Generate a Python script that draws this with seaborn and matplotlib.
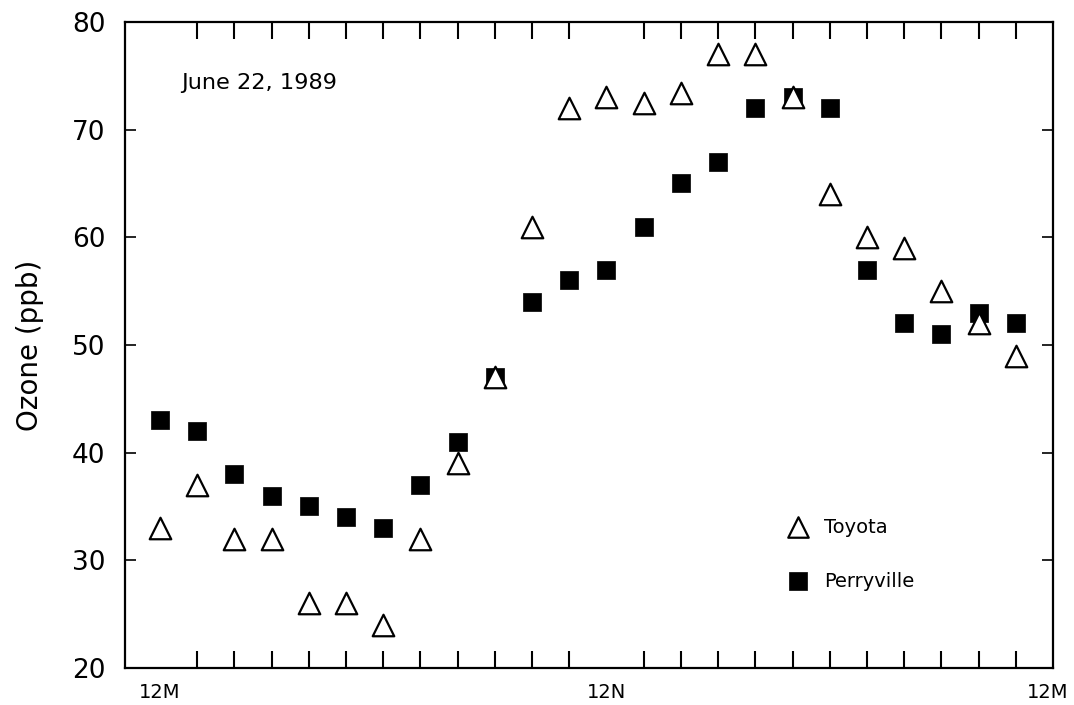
import matplotlib
matplotlib.use("Agg")
import matplotlib.pyplot as plt
import seaborn as sns
import pandas as pd
import numpy as np

hours = list(range(24))
toyota = [33, 37, 32, 32, 26, 26, 24, 32, 39, 47, 61, 72, 73, 72.5, 73.4, 77, 77, 73, 64, 60, 59, 55, 52, 49]
perryville = [43, 42, 38, 36, 35, 34, 33, 37, 41, 47, 54, 56, 57, 61, 65, 67, 72, 73, 72, 57, 52, 51, 53, 52]
xtick_pos = [0, 12, 23.87]
xtick_labels = ["12M", "12N", "12M"]
yticks = [20, 30, 40, 50, 60, 70, 80]

df = pd.DataFrame({
    "hour": hours + hours,
    "ozone": toyota + perryville,
    "site": ["Toyota"] * 24 + ["Perryville"] * 24,
})

sns.set_theme(style="white")
plt.rcParams["font.family"] = ["DejaVu Sans"]
plt.rcParams["text.color"] = "black"
plt.rcParams["axes.labelcolor"] = "black"
plt.rcParams["xtick.color"] = "black"
plt.rcParams["ytick.color"] = "black"

fig = plt.figure(figsize=(10.74, 7.05), dpi=100)
ax = fig.add_axes([0.1164, 0.0525, 0.864, 0.9163])

tdf = df[df.site == "Toyota"]
pdf = df[df.site == "Perryville"]
sns.scatterplot(data=pdf, x="hour", y="ozone", marker="s", s=13**2, color="black",
                edgecolor="black", linewidth=0.5, ax=ax, label="Perryville", zorder=2)
sns.scatterplot(data=tdf, x="hour", y="ozone", marker="^", s=15.5**2, facecolor="white",
                edgecolor="black", linewidth=1.6, ax=ax, label="Toyota", zorder=3)

ax.set_xlim(-0.94, 24.0)
ax.set_ylim(20, 80)
ax.set_yticks(yticks)
ax.set_yticklabels([str(v) for v in yticks], fontsize=19)
ax.set_xticks(hours, minor=True)
ax.set_xticks(xtick_pos)
ax.set_xticklabels(xtick_labels, fontsize=14, fontweight="medium")
ax.tick_params(axis="x", which="major", length=0, pad=11)
ax.tick_params(axis="x", which="minor", direction="in", length=12, width=1.5,
               top=True, bottom=True, color="black")
ax.tick_params(axis="y", which="major", direction="in", length=8, width=1.2,
               left=True, right=True, color="black", pad=14)
for sp in ax.spines.values():
    sp.set_color("black")
    sp.set_linewidth(1.6)

ax.set_xlabel("")
ax.set_ylabel("Ozone (ppb)", fontsize=20, labelpad=20)

ax.text(0.061, 0.905, "June 22, 1989", transform=ax.transAxes, fontsize=16.2,
        ha="left", va="center")

handles, labels = ax.get_legend_handles_labels()
order = [labels.index("Toyota"), labels.index("Perryville")]
ax.legend([handles[i] for i in order], [labels[i] for i in order],
          loc="upper left", bbox_to_anchor=(0.685, 0.26), frameon=False,
          fontsize=14, labelspacing=1.8, handletextpad=0.35, markerscale=0.95)

fig.savefig("out.png", dpi=100)
